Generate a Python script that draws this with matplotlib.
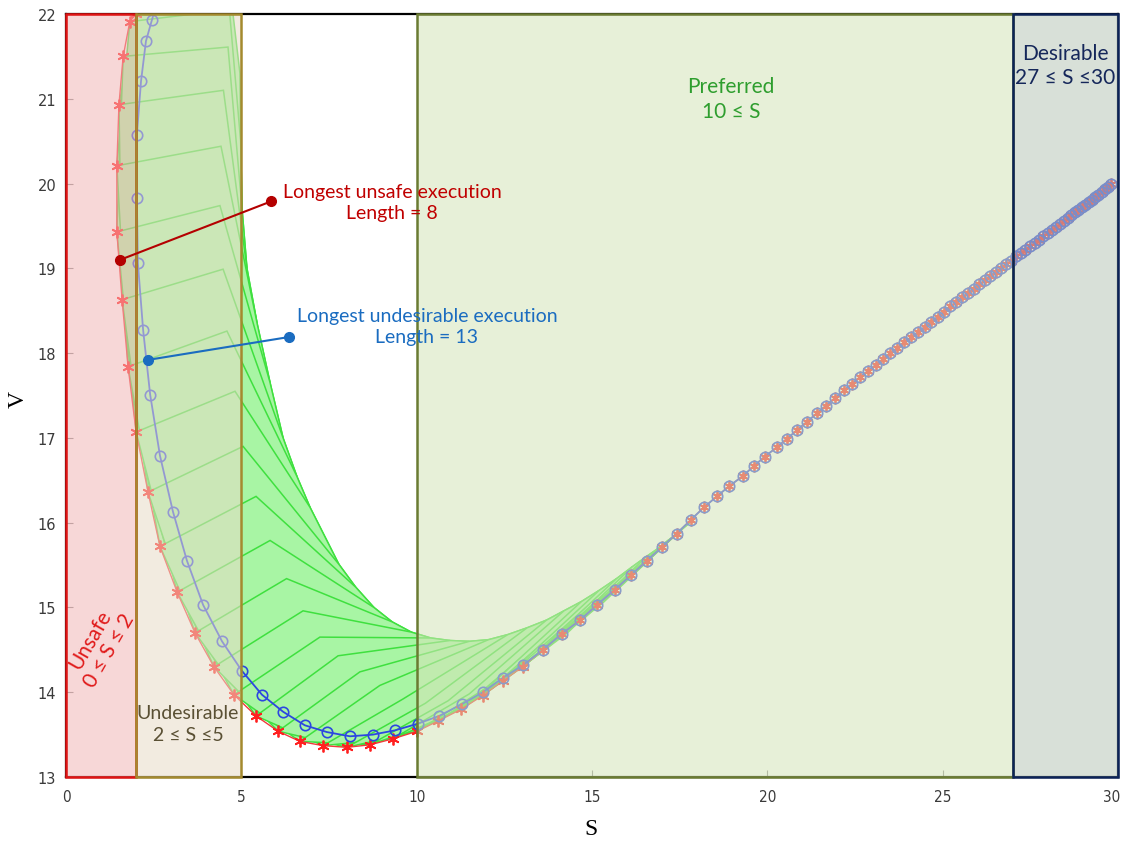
import matplotlib
matplotlib.use("Agg")
import matplotlib.pyplot as plt
from matplotlib.patches import Rectangle, Polygon
from matplotlib.transforms import ScaledTranslation

# ---------------- data ----------------
# lower (red star) trajectory head
red_head_s = [2.00, 1.82, 1.63, 1.51, 1.45, 1.45, 1.60, 1.77, 2.00, 2.34, 2.68, 3.17, 3.68, 4.22,
              4.79, 5.42, 6.05, 6.67, 7.33, 8.01, 8.67, 9.32, 10.01, 10.61, 11.27, 11.88, 12.45, 13.02]
red_head_v = [22.00, 21.91, 21.50, 20.93, 20.21, 19.43, 18.63, 17.84, 17.07, 16.36, 15.72, 15.18, 14.70, 14.30,
              13.97, 13.72, 13.54, 13.42, 13.37, 13.35, 13.38, 13.45, 13.54, 13.66, 13.80, 13.96, 14.13, 14.30]
# upper (blue circle) trajectory head
blue_head_s = [2.68, 2.45, 2.28, 2.14, 2.02, 2.02, 2.05, 2.20, 2.40, 2.68, 3.05, 3.45, 3.91, 4.45,
               5.02, 5.59, 6.19, 6.81, 7.44, 8.10, 8.75, 9.38, 10.04, 10.64, 11.29, 11.89, 12.46, 13.03]
blue_head_v = [22.25, 21.93, 21.68, 21.21, 20.57, 19.83, 19.06, 18.27, 17.51, 16.79, 16.13, 15.55, 15.03, 14.60,
               14.25, 13.97, 13.77, 13.61, 13.53, 13.48, 13.50, 13.55, 13.63, 13.72, 13.86, 14.00, 14.17, 14.32]
# shared tail of both trajectories
common_s = [13.60, 14.14, 14.66, 15.14, 15.65, 16.11, 16.56, 16.99, 17.41, 17.81,
            18.19, 18.56, 18.91, 19.30, 19.62, 19.93, 20.27, 20.56, 20.84, 21.13,
            21.41, 21.67, 21.93, 22.18, 22.42, 22.65, 22.87, 23.09, 23.30, 23.51,
            23.71, 23.91, 24.11, 24.30, 24.49, 24.68, 24.86, 25.04, 25.22, 25.39,
            25.56, 25.73, 25.89, 26.05, 26.21, 26.36, 26.51, 26.66, 26.81, 26.95,
            27.09, 27.23, 27.36, 27.49, 27.62, 27.75, 27.87, 27.99, 28.11, 28.23,
            28.34, 28.45, 28.56, 28.67, 28.77, 28.87, 28.97, 29.07, 29.17, 29.26,
            29.35, 29.44, 29.53, 29.62, 29.71, 29.80]
common_v = [14.50, 14.69, 14.85, 15.03, 15.21, 15.38, 15.55, 15.71, 15.87, 16.03,
            16.18, 16.31, 16.43, 16.55, 16.67, 16.78, 16.89, 16.99, 17.09, 17.19,
            17.29, 17.38, 17.47, 17.56, 17.64, 17.72, 17.79, 17.86, 17.93, 18.00,
            18.06, 18.13, 18.19, 18.25, 18.31, 18.37, 18.43, 18.49, 18.55, 18.60,
            18.66, 18.71, 18.76, 18.81, 18.86, 18.91, 18.96, 19.00, 19.05, 19.09,
            19.14, 19.18, 19.22, 19.26, 19.30, 19.34, 19.38, 19.42, 19.45, 19.49,
            19.52, 19.56, 19.59, 19.63, 19.66, 19.69, 19.72, 19.75, 19.78, 19.81,
            19.84, 19.87, 19.90, 19.93, 19.96, 19.99]

# reachable-set fan polygons (one per lower-trajectory step): peak and outer-envelope vertices
fan_peak_s = [4.72, 4.66, 4.62, 4.49, 4.42, 4.39, 4.48, 4.59, 4.82, 5.05, 5.42, 5.82, 6.29, 6.76, 7.24, 7.76,
              8.38, 8.95, 9.61, 10.25, 10.90, 11.50, 12.10, 12.65, 13.20, 13.75, 14.30, 14.80, 15.30, 15.80, 16.20, 16.60]
fan_peak_v = [22.15, 22.05, 21.61, 21.10, 20.44, 19.74, 18.99, 18.26, 17.55, 16.90, 16.31, 15.79, 15.34, 14.96, 14.65, 14.43,
              14.24, 14.08, 13.92, 13.87, 13.90, 13.98, 14.08, 14.22, 14.37, 14.53, 14.70, 14.88, 15.05, 15.24, 15.40, 15.56]
fan_right_s = [4.96, 4.98, 5.02, 5.16, 5.45, 5.82, 6.19, 6.58, 6.96, 7.78, 8.26, 8.78, 9.30, 9.84, 10.40, 10.95,
               11.50, 12.05, 12.60, 13.15, 13.70, 14.20, 14.70, 15.20, 15.70, 16.15, 16.55, 16.90, 17.20, 17.45, 17.60, 17.80]
fan_right_v = [21.30, 20.50, 19.70, 19.00, 18.35, 17.65, 17.00, 16.55, 16.18, 15.51, 15.24, 15.00, 14.83, 14.71, 14.64, 14.61,
               14.60, 14.62, 14.68, 14.76, 14.85, 14.96, 15.07, 15.20, 15.34, 15.48, 15.60, 15.70, 15.80, 15.88, 15.94, 16.01]
fan_span = 2   # each set also covers the next envelope vertices

# regions
region_lo = [0, 2, 10, 27]
region_hi = [2, 5, 27, 30]

# annotated points
unsafe_pt = (1.54, 19.10)
unsafe_lbl_pt = (5.85, 19.79)
undes_pt = (2.34, 17.92)
undes_lbl_pt = (6.36, 18.19)

x_ticks = [0, 5, 10, 15, 20, 25, 30]
y_ticks = [13, 14, 15, 16, 17, 18, 19, 20, 21, 22]

red_s = red_head_s + common_s
red_v = red_head_v + common_v
blue_s = blue_head_s + common_s
blue_v = blue_head_v + common_v

# ---------------- figure ----------------
fig = plt.figure(figsize=(11.24, 8.45), dpi=100)
ax = fig.add_axes([66 / 1124, 67 / 845, 1052 / 1124, 763 / 845])
ax.set_xlim(0, 30)
ax.set_ylim(13, 22)

fan_face = "#a8f5a4"
fan_edge = "#3fe03f"
nf = len(fan_peak_s)
for i in range(nf):
    verts = [(red_s[i], red_v[i]), (fan_peak_s[i], fan_peak_v[i])]
    for k in range(fan_span + 1):
        j = min(i + k, nf - 1)
        verts.append((fan_right_s[j], fan_right_v[j]))
    e = i + fan_span + 1
    verts.append((red_s[e], red_v[e]))
    ax.add_patch(Polygon(verts, closed=True, facecolor=fan_face, edgecolor=fan_edge,
                         lw=1.1, zorder=1 + i * 0.001))

# trajectories
ax.plot(red_s, red_v, color="#f03a3a", lw=1.0, zorder=2)
ax.plot(blue_s, blue_v, color="#2c47e0", lw=1.3, zorder=2.1)
ax.plot(red_s, red_v, ls="none", marker=(6, 2, 0), ms=8.5, mew=1.3, color="#ff2020", zorder=2.2)
ax.plot(blue_s, blue_v, ls="none", marker="o", ms=7.5, mfc="none", mew=1.2, mec="#2c47e0", zorder=2.3)

# region overlays
a = 0.55
fills = ["#f2b6b6", "#e9dcc7", "#d5e4b8", "#b8c7b8"]
edges = ["#e01414", "#a48a2e", "#6a7b32", "#0c2358"]
for lo, hi, fc in zip(region_lo, region_hi, fills):
    ax.add_patch(Rectangle((lo, 13), hi - lo, 9, facecolor=fc, edgecolor="none", alpha=a, zorder=4))
for lo, hi, ec in zip(region_lo, region_hi, edges):
    ax.add_patch(Rectangle((lo, 13), hi - lo, 9, facecolor="none", edgecolor=ec, lw=1.8,
                           zorder=5, clip_on=False))

# axes style
for sp in ax.spines.values():
    sp.set_color("black")
    sp.set_linewidth(1.6)
ax.set_xticks(x_ticks)
ax.set_yticks(y_ticks)
ax.tick_params(direction="in", length=5, color="#8a8a8a", labelcolor="#3a3a3a", labelsize=10.5)
ax.tick_params(axis="x", pad=9)
ax.tick_params(axis="y", pad=7)
xlabels = ax.get_xticklabels()
for lab in xlabels:
    lab.set_fontstretch("condensed")
    lab.set_fontsize(11)
xlabels[-1].set_transform(xlabels[-1].get_transform() + ScaledTranslation(-0.06, 0, fig.dpi_scale_trans))

fig.text(591 / 1124, 1 - 830 / 845, "S", ha="center", va="center", family="Liberation Serif", fontsize=17)
fig.text(18 / 1124, 1 - 400 / 845, "V", ha="center", va="center", rotation=90,
         family="Liberation Serif", fontsize=17)

fam = ["Lato", "DejaVu Sans"]
# annotations
ax.plot([unsafe_pt[0], unsafe_lbl_pt[0]], [unsafe_pt[1], unsafe_lbl_pt[1]], "-o", color="#b40000",
        lw=1.5, ms=7, zorder=10)
ax.text(9.30, 19.78, "Longest unsafe execution\nLength = 8", color="#c00000", ha="center", va="center",
        family=fam, fontsize=14, linespacing=1.25, zorder=11)
ax.plot([undes_pt[0], undes_lbl_pt[0]], [undes_pt[1], undes_lbl_pt[1]], "-o", color="#1a6cc0",
        lw=1.5, ms=7, zorder=10)
ax.text(10.29, 18.32, "Longest undesirable execution\nLength = 13", color="#1a6cc0", ha="center",
        va="center", family=fam, fontsize=14, linespacing=1.25, zorder=11)

ax.text(18.96, 21.0, "Preferred\n10 \u2264 S", color="#2e9e2e", ha="center", va="center",
        family=fam, fontsize=15, linespacing=1.3, zorder=11)
ax.text(28.49, 21.40, "Desirable\n27 \u2264 S \u226430", color="#15275a", ha="center", va="center",
        family=fam, fontsize=15, linespacing=1.25, zorder=11)
ax.text(3.48, 13.63, "Undesirable\n2 \u2264 S \u22645", color="#5a5034", ha="center", va="center",
        family=fam, fontsize=14, linespacing=1.3, zorder=11)
ax.text(0.97, 14.57, "Unsafe\n0 \u2264 S \u2264 2", color="#e01a1a", ha="center", va="center",
        family=fam, fontsize=15, linespacing=1.1, rotation=60, zorder=11)

fig.savefig("out.png", dpi=100)
